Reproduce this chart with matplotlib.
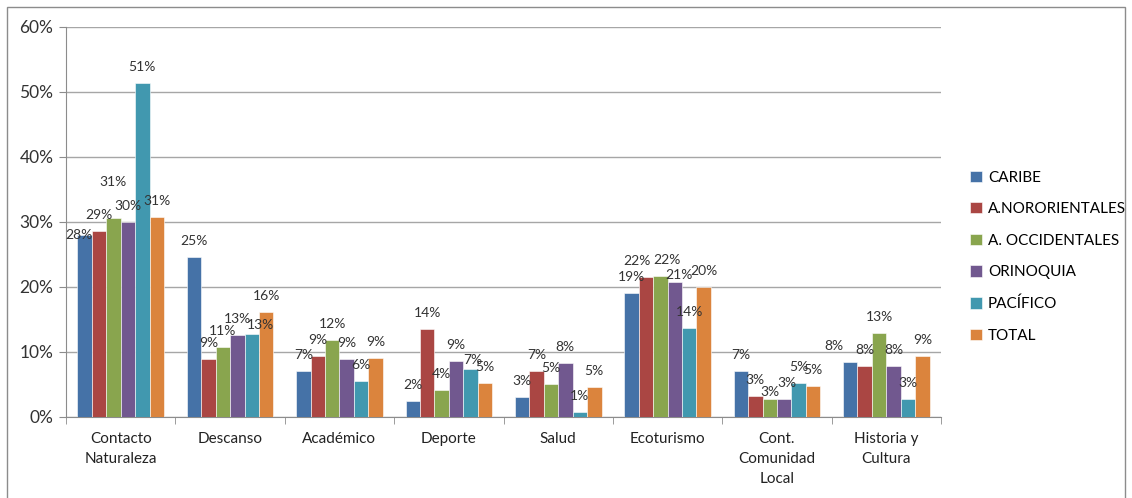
import numpy as np
import matplotlib.pyplot as plt
from matplotlib.patches import Rectangle

# Values (fraction of respondents, %)
categorias = ['Contacto\nNaturaleza', 'Descanso', 'Académico', 'Deporte', 'Salud',
              'Ecoturismo', 'Cont.\nComunidad\nLocal', 'Historia y\nCultura']
caribe = [28.0, 24.6, 7.0, 2.4, 3.0, 19.0, 7.1, 8.5]
nororientales = [28.6, 8.9, 9.4, 13.6, 7.0, 21.6, 3.2, 7.8]
occidentales = [30.6, 10.8, 11.8, 4.1, 5.0, 21.7, 2.8, 12.9]
orinoquia = [30.0, 12.6, 8.9, 8.6, 8.3, 20.8, 2.8, 7.9]
pacifico = [51.4, 12.8, 5.6, 7.4, 0.7, 13.7, 5.3, 2.8]
total = [30.8, 16.1, 9.0, 5.3, 4.6, 20.0, 4.7, 9.4]
series = ['CARIBE', 'A.NORORIENTALES', 'A. OCCIDENTALES', 'ORINOQUIA', 'PACÍFICO', 'TOTAL']

datos = [caribe, nororientales, occidentales, orinoquia, pacifico, total]
colores = ['#4572A7', '#AA4643', '#89A54E', '#71588F', '#4198AF', '#DB843D']

# label nudges (pixels) where the labels were moved by hand in the original
nudge = {(0, 0): (-6, 0), (2, 0): (0, 36), (4, 1): (9, 9), (4, 3): (2, 9),
         (1, 5): (-9, 16), (2, 5): (7, 16), (3, 5): (4, 7), (2, 6): (0, 7),
         (3, 6): (3, 16), (0, 7): (-16, 16)}

plt.rcParams['font.family'] = ['Lato', 'DejaVu Sans']

fig = plt.figure(figsize=(11.32, 4.98), dpi=100)
ax = fig.add_axes([0.0583, 0.1627, 0.7730, 0.7831])

# border round the whole chart
fig.patches.append(Rectangle((0.006, -0.02), 0.988, 1.006, transform=fig.transFigure,
                             fill=False, edgecolor='#8C8C8C', lw=1))

x = np.arange(len(categorias))
w = 0.132
for i, (vals, name, c) in enumerate(zip(datos, series, colores)):
    pos = x + (i - 2.5) * w
    bars = ax.bar(pos, vals, width=w, color=c, label=name, edgecolor='white', lw=0.4, zorder=3)
    for j, (b, v) in enumerate(zip(bars, vals)):
        dx, dy = nudge.get((i, j), (0, 16))
        ax.annotate('%d%%' % round(v), (b.get_x() + b.get_width() / 2, v),
                    xytext=(dx, dy), textcoords='offset pixels', ha='center', va='center',
                    fontsize=10, color='#333333', zorder=4)

ax.set_ylim(0, 60)
ax.set_xlim(-0.5, len(categorias) - 0.5)
ax.set_yticks(np.arange(0, 61, 10))
ax.set_yticklabels(['%d%%' % t for t in range(0, 61, 10)], fontsize=12.5, color='#333333')
ax.yaxis.grid(True, color='#A6A6A6', lw=1, zorder=0)

ax.set_xticks(x)
ax.set_xticklabels(categorias, fontsize=11, color='#222222', linespacing=1.55)
ax.tick_params(axis='x', length=0, pad=11)
ax.set_xticks(np.arange(-0.5, len(categorias), 1), minor=True)
ax.tick_params(axis='x', which='minor', length=5, color='#8C8C8C', direction='out')
ax.tick_params(axis='y', length=5, color='#8C8C8C', direction='out', pad=4)

for s in ['top', 'right']:
    ax.spines[s].set_visible(False)
for s in ['left', 'bottom']:
    ax.spines[s].set_color('#8C8C8C')

fig.legend(loc='upper left', bbox_to_anchor=(0.845, 0.685), frameon=False, fontsize=11,
           handlelength=0.75, handleheight=0.75, handletextpad=0.4, labelspacing=1.15)

fig.savefig('out.png', dpi=100)
